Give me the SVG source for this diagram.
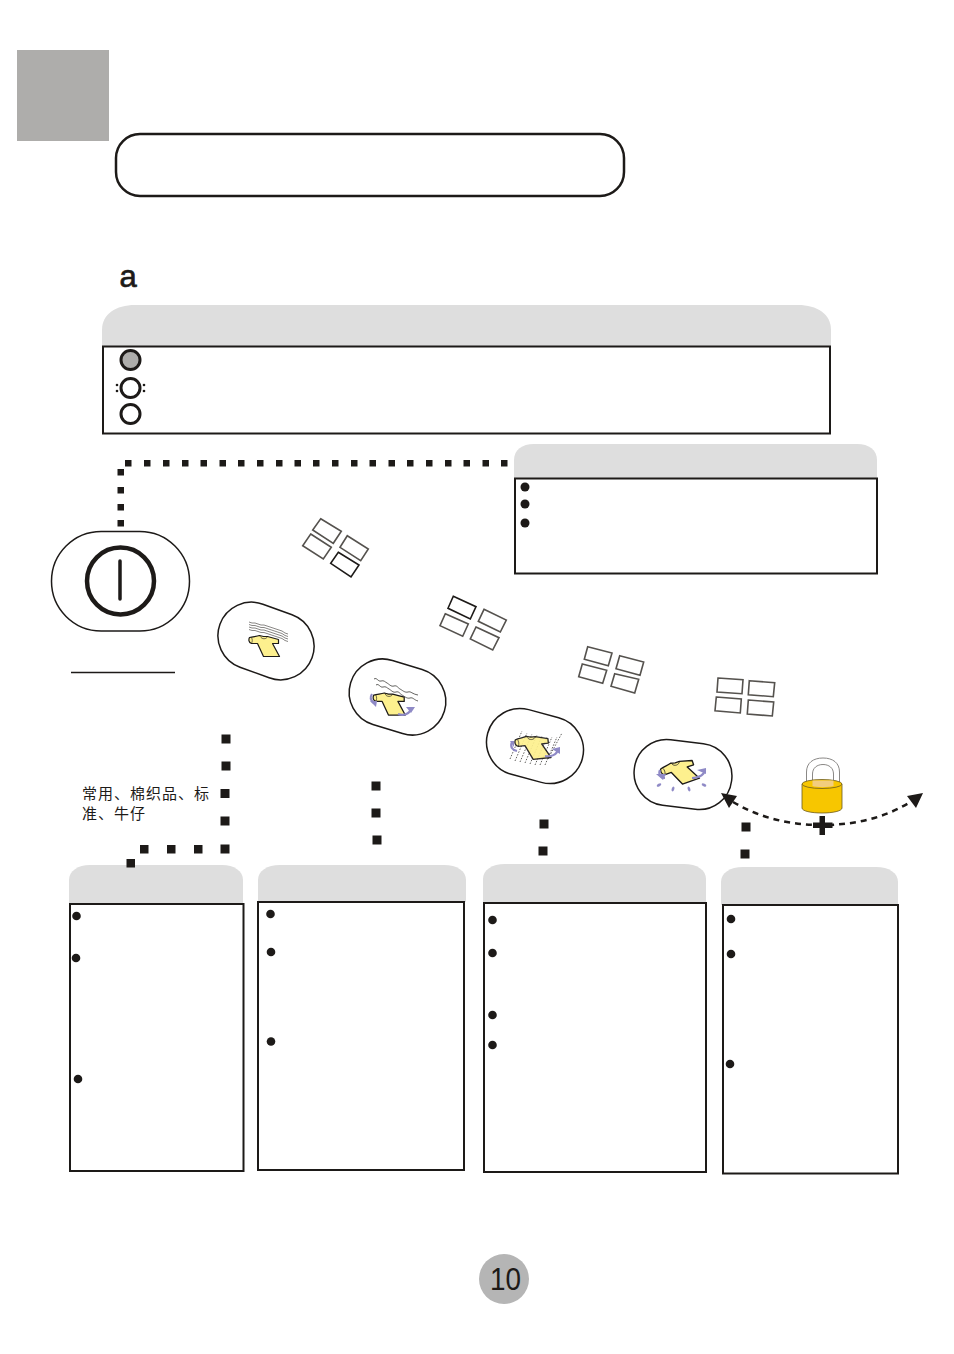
<svg xmlns="http://www.w3.org/2000/svg" width="954" height="1354" viewBox="0 0 954 1354">
<style>
.head{fill:#dedede}
.box{fill:#fff;stroke:#1d1a18;stroke-width:2}
.bul{fill:#1d1a18}
.pill{fill:#fff;stroke:#1d1a18;stroke-width:1.5}
.win{fill:none;stroke:#55524e;stroke-width:1.6}
.dark{stroke:#1d1a18}
.sq{fill:#1d1a18}
.led{stroke:#1d1a18;stroke-width:3;fill:#fff}
.shirt{fill:#fdf08e;stroke:#1d1a18;stroke-width:1.200;stroke-linejoin:round}
.wave{fill:none;stroke:#6b6866;stroke-width:.8}
.rot{fill:none;stroke:#8f8ac6;stroke-width:2.200}
.rh{fill:#8f8ac6}
.cjk{font-family:"Noto Sans CJK SC","Liberation Sans",sans-serif;font-size:15px;letter-spacing:1px;fill:#1d1a18}
.lat{font-family:"Liberation Sans",Arial,sans-serif;fill:#1d1a18}
</style>
<defs>
<symbol id="tee" overflow="visible" viewBox="-20 -15 40 30" width="40" height="30" x="-20" y="-15">
<path class="shirt" d="M-15-8C-11-9-8-9-5-10L-1-9 3-9 14-6 14-2 8-2 15 11-1 11-7-2-13-2C-16-3-16-6-15-8Z"/>
<path fill="none" stroke="#1d1a18" stroke-width=".6" d="M-13-8C-12-6-12-4-13-2M-4-9C-3-6 2-6 3-9"/>
</symbol>
</defs>

<g id="corner-tab"><rect x="17" y="50" width="92" height="91" fill="#aeadab"/></g>
<g id="title-box"><rect x="116" y="134" width="508" height="62" rx="24" fill="#fff" stroke="#1d1a18" stroke-width="2.500"/></g>
<text class="lat" x="119.500" y="287" font-size="31" stroke="#1d1a18" stroke-width=".7">a</text>

<g id="status-panel">
<path class="head" d="M102 346V330C102 314 116 305 135 305H798C817 305 831 314 831 330V346Z"/>
<rect class="box" x="103" y="346.500" width="727" height="87"/>
<circle class="led" cx="130.500" cy="360" r="9.500" style="fill:#aeadab"/>
<circle class="led" cx="130.500" cy="388" r="9.500"/>
<circle class="led" cx="130.500" cy="414" r="9.500"/>
<g class="bul"><circle cx="117" cy="385" r="1.300"/><circle cx="117" cy="391" r="1.300"/><circle cx="144" cy="385" r="1.300"/><circle cx="144" cy="391" r="1.300"/></g>
</g>

<g id="power-panel">
<path class="head" d="M514 478V460C514 450 522 444 534 444H857C869 444 877 450 877 460V478Z"/>
<rect class="box" x="515" y="478.500" width="362" height="95"/>
<g class="bul"><circle cx="525" cy="487" r="4.500"/><circle cx="525" cy="504" r="4.500"/><circle cx="525" cy="523" r="4.500"/></g>
</g>

<g id="power-button">
<rect x="51.500" y="531.500" width="138" height="99.500" rx="49.700" fill="#fff" stroke="#1d1a18" stroke-width="1.500"/>
<circle cx="120.500" cy="581" r="33.500" fill="#fff" stroke="#1d1a18" stroke-width="4.500"/>
<line x1="120" y1="561" x2="120" y2="599" stroke="#1d1a18" stroke-width="3.500" stroke-linecap="round"/>
</g>
<line x1="71" y1="672.500" x2="175" y2="672.500" stroke="#1d1a18" stroke-width="1.500"/>

<g id="windows-1">
<polygon class="win" points="320.700,518.700 341.300,531.300 333.300,543.300 312.700,530"/>
<polygon class="win" points="310.700,534 331.300,547.300 323.300,559 302.700,545.700"/>
<polygon class="win" points="347.300,535.700 368.300,549 360.700,560.700 340,547.300"/>
<polygon class="win dark" points="338.300,552.300 359,565 351,577 330.700,563.300"/>
</g>
<g id="windows-2">
<polygon class="win dark" points="453.300,596.300 476,606.700 470.300,619 448,608.300"/>
<polygon class="win" points="445.300,613.700 468.300,624 462.700,636.300 440,625.700"/>
<polygon class="win" points="484,609.300 506.300,620 500.300,632 478.300,621.300"/>
<polygon class="win" points="476,627 499,637.700 492.700,650 470.300,639"/>
</g>
<g id="windows-3">
<polygon class="win" points="587.700,646.700 612,653 608.300,665.700 584.300,659.300"/>
<polygon class="win" points="582.300,664 606.700,670.300 602.700,683.300 578.700,676.700"/>
<polygon class="win" points="619.700,655.700 643.700,662 640,675.300 616,668.700"/>
<polygon class="win" points="614.700,673.700 638.700,679.300 634.700,693 611,686.300"/>
</g>
<g id="windows-4">
<polygon class="win" points="718,678 743,679.700 742,693.700 717,692"/>
<polygon class="win" points="716.300,697 741.300,699 740.300,713 715,710.700"/>
<polygon class="win" points="749.300,680.700 774.700,682.700 773.300,696.700 748.300,694.700"/>
<polygon class="win" points="748.300,700 773.700,702 772.300,716 747.300,714"/>
</g>

<g id="stage-1">
<rect class="pill" x="217" y="607.500" width="98" height="67" rx="33.500" transform="rotate(20 266 641)"/>
<g class="wave">
<path d="M249 622l3 1 3 0 3 1 3 1 3 0 3 1 3 1 3 1 3 1 3 1 3 1 3 2 3 1"/>
<path d="M249 624.500l3 1 3 0 3 1 3 1 3 0 3 1 3 1 3 1 3 1 3 1 3 1 3 2 3 1"/>
<path d="M249 627l3 1 3 0 3 1 3 1 3 0 3 1 3 1 3 1 3 1 3 1 3 1 3 2 3 1"/>
<path d="M249 629.500l3 1 3 0 3 1 3 1 3 0 3 1 3 1 3 1 3 1 3 1 3 1 3 2 3 1"/>
</g>
<use href="#tee" transform="translate(264.500 645.500)"/>
</g>

<g id="stage-2">
<rect class="pill" x="348.500" y="663.500" width="98" height="67" rx="33.500" transform="rotate(17 397.500 697)"/>
<g class="wave" style="stroke:#3a3835">
<path d="M374 679c3-2 4 3 7 2s4 1 6 2 4 4 7 3 4 2 6 3 5 4 8 3 4 2 10 3"/>
<path d="M376 685c3-2 4 3 7 2s4 1 6 2 4 4 7 3 4 2 6 3 5 4 8 3 4 2 8 3"/>
</g>
<use href="#tee" transform="translate(389.500 703.500) scale(1.050)"/>
<path class="rot" d="M372 694c-2 3-2 6 2 9"/><path class="rh" d="M370 701l7 0-1 6Z"/>
<path class="rot" d="M398 714c6 2 12 0 13-6"/><path class="rh" d="M406 707l9 0-4 6Z"/>
</g>

<g id="stage-3">
<rect class="pill" x="486" y="712.500" width="98" height="67" rx="33.500" transform="rotate(15 535 746)"/>
<g stroke="#3a3835" stroke-width=".8" stroke-dasharray="1.500 1.500" fill="none">
<path d="M510 759L522 731M515 761L527 733M520 762L532 734M525 763L537 735M530 764L542 736M535 765L547 737M540 765L552 737M545 765L557 737M548 759L562 733"/>
</g>
<use href="#tee" transform="translate(533 747) rotate(-6) scale(1.120)" opacity=".92"/>
<path class="rot" d="M512 742c-2 5 0 8 5 9"/><path class="rh" d="M510 741l4 0 0 6Z"/>
<path class="rot" d="M545 756c6 1 12-1 13-7"/><path class="rh" d="M552 749l8-2 0 7Z"/>
</g>

<g id="stage-4">
<rect class="pill" x="634" y="741.500" width="98" height="66" rx="32.500" transform="rotate(7 683 774.500)"/>
<use href="#tee" transform="translate(679.500 772) rotate(-19) scale(1.120)"/>
<path class="rot" d="M660 770c-2 4 1 8 5 8"/><path class="rh" d="M656 774l10 0-3 6Z"/>
<path class="rot" d="M692 778c8 0 13-4 13-9"/><path class="rh" d="M697 770l9-2 0 6Z"/>
<g class="rh"><ellipse cx="659" cy="785" rx="2.500" ry="1.300" transform="rotate(-30 659 785)"/><ellipse cx="673" cy="789" rx="1.300" ry="2.500" transform="rotate(20 673 789)"/><ellipse cx="689" cy="789" rx="1.300" ry="2.500" transform="rotate(-20 689 789)"/><ellipse cx="704" cy="785" rx="2.500" ry="1.300" transform="rotate(25 704 785)"/></g>
</g>

<g id="lock">
<path d="M806.500 784V772C806.500 763 813 758 823 758S839.500 763 839.500 772V784H833.500V774C833.500 768 829 764.500 823 764.500S812.500 768 812.500 774V784Z" fill="#fff" stroke="#8a8886" stroke-width="1"/>
<path d="M802 784V808C802 811 811 813 822 813S842 811 842 808V784Z" fill="#f7c600" stroke="#6b5a20" stroke-width=".8"/>
<ellipse cx="822" cy="784" rx="20" ry="4.500" fill="#f7c600" stroke="#6b5a20" stroke-width=".8"/>
<path d="M812.500 780.500H833.500V786C829 787.500 816 787.500 812.500 786Z" fill="#f2cd7f"/>
</g>

<text class="cjk" x="82" y="799">常用、棉织品、标</text>
<text class="cjk" x="82" y="819">准、牛仔</text>

<g id="panel-1">
<path class="head" d="M69 904V880C69 871 78 865 90 865H222C234 865 243 871 243 880V904Z"/>
<rect class="box" x="70" y="904" width="173.500" height="267"/>
<g class="bul"><circle cx="76.500" cy="916" r="4.300"/><circle cx="76" cy="958" r="4.300"/><circle cx="78" cy="1079" r="4.300"/></g>
</g>
<g id="panel-2">
<path class="head" d="M258 902V880C258 871 267 865 280 865H444C457 865 466 871 466 880V902Z"/>
<rect class="box" x="258" y="902" width="206" height="268"/>
<g class="bul"><circle cx="270.500" cy="914" r="4.300"/><circle cx="271" cy="952" r="4.300"/><circle cx="271" cy="1041.500" r="4.300"/></g>
</g>
<g id="panel-3">
<path class="head" d="M483 903V879C483 870 492 864 505 864H684C697 864 706 870 706 879V903Z"/>
<rect class="box" x="484" y="903" width="222" height="269"/>
<g class="bul"><circle cx="492.500" cy="920" r="4.300"/><circle cx="492.500" cy="953" r="4.300"/><circle cx="492.500" cy="1015" r="4.300"/><circle cx="492.500" cy="1045" r="4.300"/></g>
</g>
<g id="panel-4">
<path class="head" d="M721 905V882C721 873 730 867 743 867H876C889 867 898 873 898 882V905Z"/>
<rect class="box" x="723" y="905" width="175" height="268.500"/>
<g class="bul"><circle cx="731" cy="919" r="4.300"/><circle cx="731" cy="954" r="4.300"/><circle cx="730" cy="1064" r="4.300"/></g>
</g>

<g id="connectors">
<g class="sq">
<rect x="117.500" y="469" width="6.500" height="6.500"/><rect x="117.500" y="487" width="6.500" height="6.500"/><rect x="117.500" y="504" width="6.500" height="6.500"/><rect x="117.500" y="520" width="6.500" height="6.500"/>
<rect x="125" y="460" width="6.500" height="6.500"/><rect x="144" y="460" width="6.500" height="6.500"/><rect x="163" y="460" width="6.500" height="6.500"/><rect x="182" y="460" width="6.500" height="6.500"/><rect x="200.500" y="460" width="6.500" height="6.500"/><rect x="219.500" y="460" width="6.500" height="6.500"/><rect x="238" y="460" width="6.500" height="6.500"/><rect x="257" y="460" width="6.500" height="6.500"/><rect x="276" y="460" width="6.500" height="6.500"/><rect x="294.500" y="460" width="6.500" height="6.500"/><rect x="313" y="460" width="6.500" height="6.500"/><rect x="332" y="460" width="6.500" height="6.500"/><rect x="351" y="460" width="6.500" height="6.500"/><rect x="369.500" y="460" width="6.500" height="6.500"/><rect x="388.500" y="460" width="6.500" height="6.500"/><rect x="407" y="460" width="6.500" height="6.500"/><rect x="426" y="460" width="6.500" height="6.500"/><rect x="445" y="460" width="6.500" height="6.500"/><rect x="463.500" y="460" width="6.500" height="6.500"/><rect x="482.500" y="460" width="6.500" height="6.500"/><rect x="501" y="460" width="6.500" height="6.500"/>
<rect x="221.500" y="734.500" width="9" height="9"/><rect x="221.500" y="761.500" width="9" height="9"/><rect x="220.500" y="789" width="9" height="9"/><rect x="220.500" y="816.500" width="9" height="9"/><rect x="220.500" y="844.500" width="9" height="9"/>
<rect x="194" y="845" width="8.500" height="8.500"/><rect x="167" y="845" width="8.500" height="8.500"/><rect x="140" y="845" width="8.500" height="8.500"/><rect x="126.500" y="859" width="8.500" height="8.500"/>
<rect x="371.500" y="781.500" width="9" height="9"/><rect x="371.500" y="808.500" width="9" height="9"/><rect x="372.500" y="835.500" width="9" height="9"/>
<rect x="539.500" y="819.500" width="9" height="9"/><rect x="538.500" y="846.500" width="9" height="9"/>
<rect x="741.500" y="822.500" width="9" height="9"/><rect x="740.500" y="849.500" width="9" height="9"/>
</g>
<path d="M733 802C760 818 790 825 822 825C855 825 885 818 912 801" fill="none" stroke="#1d1a18" stroke-width="2.500" stroke-dasharray="6 5"/>
<path d="M721 793L737 796 729 808Z" class="sq"/>
<path d="M923 793L907 796 916 808Z" class="sq"/>
<path d="M819.500 816H825V822.500H832.500V828H825V835H819.500V828H813V822.500H819.500Z" class="sq"/>
</g>

<g id="page-number">
<circle cx="504" cy="1279" r="25" fill="#b5b5b5"/>
<text class="lat" x="490" y="1290" font-size="32" textLength="31" lengthAdjust="spacingAndGlyphs">10</text>
</g>
</svg>
